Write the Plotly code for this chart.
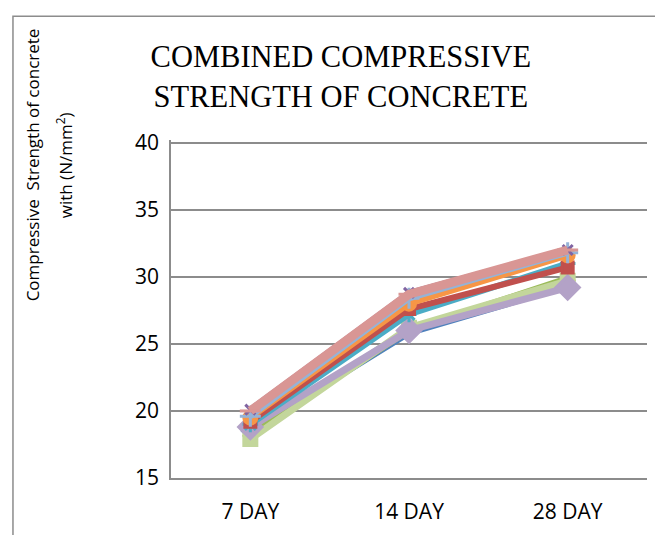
import plotly.graph_objects as go

categories = ["7 DAY", "14 DAY", "28 DAY"]
series_names = ["Series1", "Series2", "Series3", "Series4", "Series5",
                "Series6", "Series7", "Series8", "Series9", "Series10"]
s1 = [18.5, 25.8, 29.3]
s2 = [19.2, 27.6, 30.7]
s3 = [18.3, 26.0, 29.9]
s4 = [20.1, 28.8, 32.0]
s5 = [19.0, 27.2, 31.0]
s6 = [19.5, 28.0, 31.6]
s7 = [19.6, 28.4, 31.8]
s8 = [20.0, 28.7, 32.0]
s9 = [17.9, 26.2, 29.7]
s10 = [18.8, 26.0, 29.2]
values = [s1, s2, s3, s4, s5, s6, s7, s8, s9, s10]
y_ticks = [15, 20, 25, 30, 35, 40]

colors = ["#4F81BD", "#C0504D", "#9BBB59", "#8064A2", "#4BACC6",
          "#F79646", "#95B3D7", "#D99694", "#C3D69B", "#B3A2C7"]
symbols = ["diamond", "square", "triangle-up", "x-thin-open", "asterisk-open",
           "circle", "cross-thin-open", "line-ew-open", "square", "diamond"]
widths = [6, 6, 6, 6, 6, 6, 6, 9, 7, 7]
msizes = [12, 11, 12, 10, 13, 13, 15, 15, 13, 18]

fig = go.Figure()
order = [0, 2, 8, 9, 4, 1, 5, 6, 3, 7]
for i in order:
    fig.add_trace(go.Scatter(
        x=categories, y=values[i], mode="lines+markers", name=series_names[i],
        line=dict(color=colors[i], width=widths[i]),
        marker=dict(symbol=symbols[i], size=msizes[i], color=colors[i],
                    line=dict(color=colors[i], width=3)),
    ))

grid_col = "#8C8C8C"
fig.update_layout(
    width=663, height=535,
    margin=dict(l=163, r=24, t=132, b=65),
    paper_bgcolor="white", plot_bgcolor="white",
    showlegend=False,
    title=dict(text="COMBINED COMPRESSIVE<br>STRENGTH OF CONCRETE",
               x=0.502, xanchor="center", y=0.89, yanchor="top",
               font=dict(family="Liberation Serif", size=30.5, color="black")),
    xaxis=dict(range=[-0.5, 2.5], showgrid=False, showline=True,
               linecolor=grid_col, linewidth=1.5, zeroline=False, ticks="",
               ticklabelstandoff=14,
               tickfont=dict(family="Open Sans", size=21, color="black")),
    yaxis=dict(range=[15, 40.2], tickvals=y_ticks, showgrid=True,
               gridcolor=grid_col, gridwidth=1.5, zeroline=False,
               showline=True, linecolor=grid_col, linewidth=1.5,
               ticks="", ticklen=0, ticklabelstandoff=6,
               tickfont=dict(family="Open Sans", size=21, color="black")),
    annotations=[
        dict(text="Compressive  Strength of concrete",
             xref="paper", yref="paper", x=-0.292, y=0.925,
             xanchor="center", yanchor="middle", textangle=-90,
             showarrow=False,
             font=dict(family="Open Sans", size=17, color="black")),
        dict(text="with (N/mm<sup>2</sup>)",
             xref="paper", yref="paper", x=-0.225, y=0.925,
             xanchor="center", yanchor="middle", textangle=-90,
             showarrow=False,
             font=dict(family="Open Sans", size=17, color="black")),
    ],
    shapes=[dict(type="rect", xref="paper", yref="paper",
                 x0=-0.332, x1=1.3, y0=-0.6, y1=1.366,
                 line=dict(color=grid_col, width=1.5), layer="below")],
)
fig.write_html("out.html")
